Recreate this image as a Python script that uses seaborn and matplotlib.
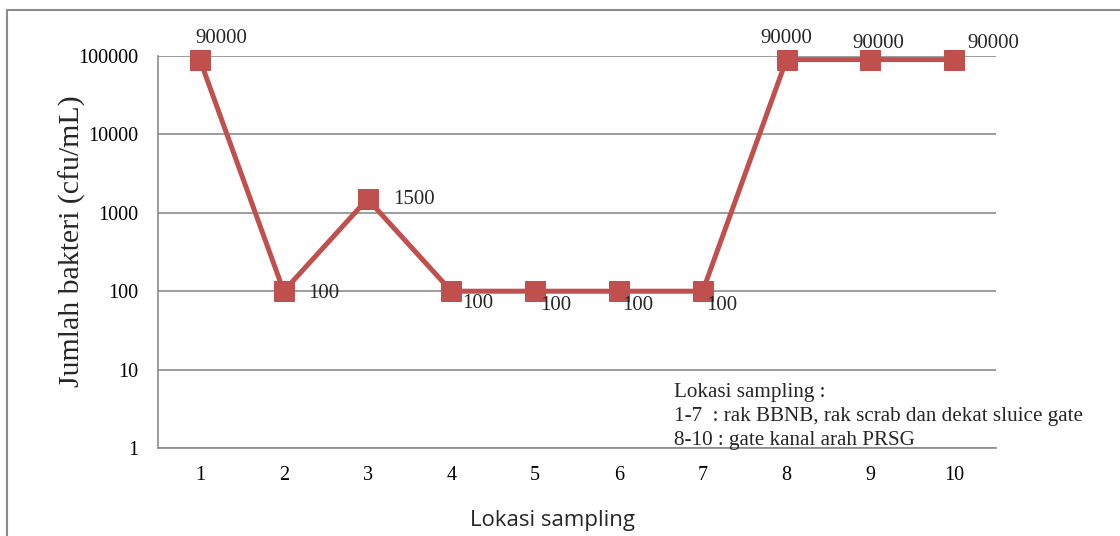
import matplotlib
matplotlib.use("Agg")
import matplotlib.pyplot as plt
import seaborn as sns
import pandas as pd
from matplotlib.patches import Rectangle
from matplotlib.ticker import FixedLocator, FixedFormatter, NullLocator

# ---- data ----
lokasi = [1, 2, 3, 4, 5, 6, 7, 8, 9, 10]
jumlah = [90000, 100, 1500, 100, 100, 100, 100, 90000, 90000, 90000]
value_labels = ["90000", "100", "1500", "100", "100", "100", "100", "90000", "90000", "90000"]
y_ticks = [1, 10, 100, 1000, 10000, 100000]
y_tick_labels = ["1", "10", "100", "1000", "10000", "100000"]
note_lines = ["Lokasi sampling :",
              "1-7  : rak BBNB, rak scrab dan dekat sluice gate",
              "8-10 : gate kanal arah PRSG"]

# label offsets in pixels (dx, dy)
label_offsets = [(21, 21), (40, -2), (46, -1), (26, -12), (21, -14),
                 (19, -14), (19, -14), (0, 21), (8, 16), (39, 16)]
note_y_px = [392, 416, 440]

df = pd.DataFrame({"lokasi": lokasi, "jumlah": jumlah})

sns.set_style("white")
plt.rcParams["font.family"] = ["Liberation Serif", "DejaVu Serif"]

fig = plt.figure(figsize=(11.2, 5.36), dpi=100)
ax = fig.add_axes([158 / 1120, 1 - 448 / 536, (996 - 158) / 1120, (448 - 56) / 536])

# outer border (only top and left visible)
fig.patches.append(Rectangle((7 / 1120, -0.1), 1.2, 1 - 10 / 536 + 0.1, transform=fig.transFigure,
                             fill=False, edgecolor="#8c8c8c", linewidth=1.5))

red = "#C0504D"
sns.lineplot(data=df, x="lokasi", y="jumlah", ax=ax, color=red, linewidth=3.6,
             marker="s", markersize=14.4, markeredgecolor=red, markerfacecolor=red,
             clip_on=False, zorder=3)

ax.set_yscale("log")
ax.set_ylim(1, 100000)
ax.set_xlim(0.5, 10.5)
ax.yaxis.set_major_locator(FixedLocator(y_ticks))
ax.yaxis.set_major_formatter(FixedFormatter(y_tick_labels))
ax.yaxis.set_minor_locator(NullLocator())
ax.set_xticks(lokasi)
ax.set_xticklabels([str(v) for v in lokasi])

ax.grid(axis="y", color="#8c8c8c", linewidth=1.2)
ax.set_axisbelow(True)
for s in ["top", "right"]:
    ax.spines[s].set_visible(False)
for s in ["left", "bottom"]:
    ax.spines[s].set_color("#8c8c8c")
    ax.spines[s].set_linewidth(1.2)
ax.tick_params(axis="both", length=0, labelsize=14.5, colors="black")
ax.tick_params(axis="y", pad=14.4)
ax.tick_params(axis="x", pad=13)

ax.set_ylabel("Jumlah bakteri (cfu/mL)", fontsize=21.5)
ax.yaxis.set_label_coords((86 - 158) / 838, (448 - 241) / 392)
ax.set_xlabel("Lokasi sampling", fontsize=16, family=["Open Sans", "DejaVu Sans"],
              labelpad=18, x=(553 - 158) / 838)

for xv, yv, lab, (dx, dy) in zip(lokasi, jumlah, value_labels, label_offsets):
    ax.annotate(lab, (xv, yv), xytext=(dx, dy), textcoords="offset pixels",
                ha="center", va="center", fontsize=15)

for line, ypx in zip(note_lines, note_y_px):
    fig.text(674 / 1120, 1 - ypx / 536, line, ha="left", va="center", fontsize=15.2)

fig.savefig("out.png", dpi=100)
